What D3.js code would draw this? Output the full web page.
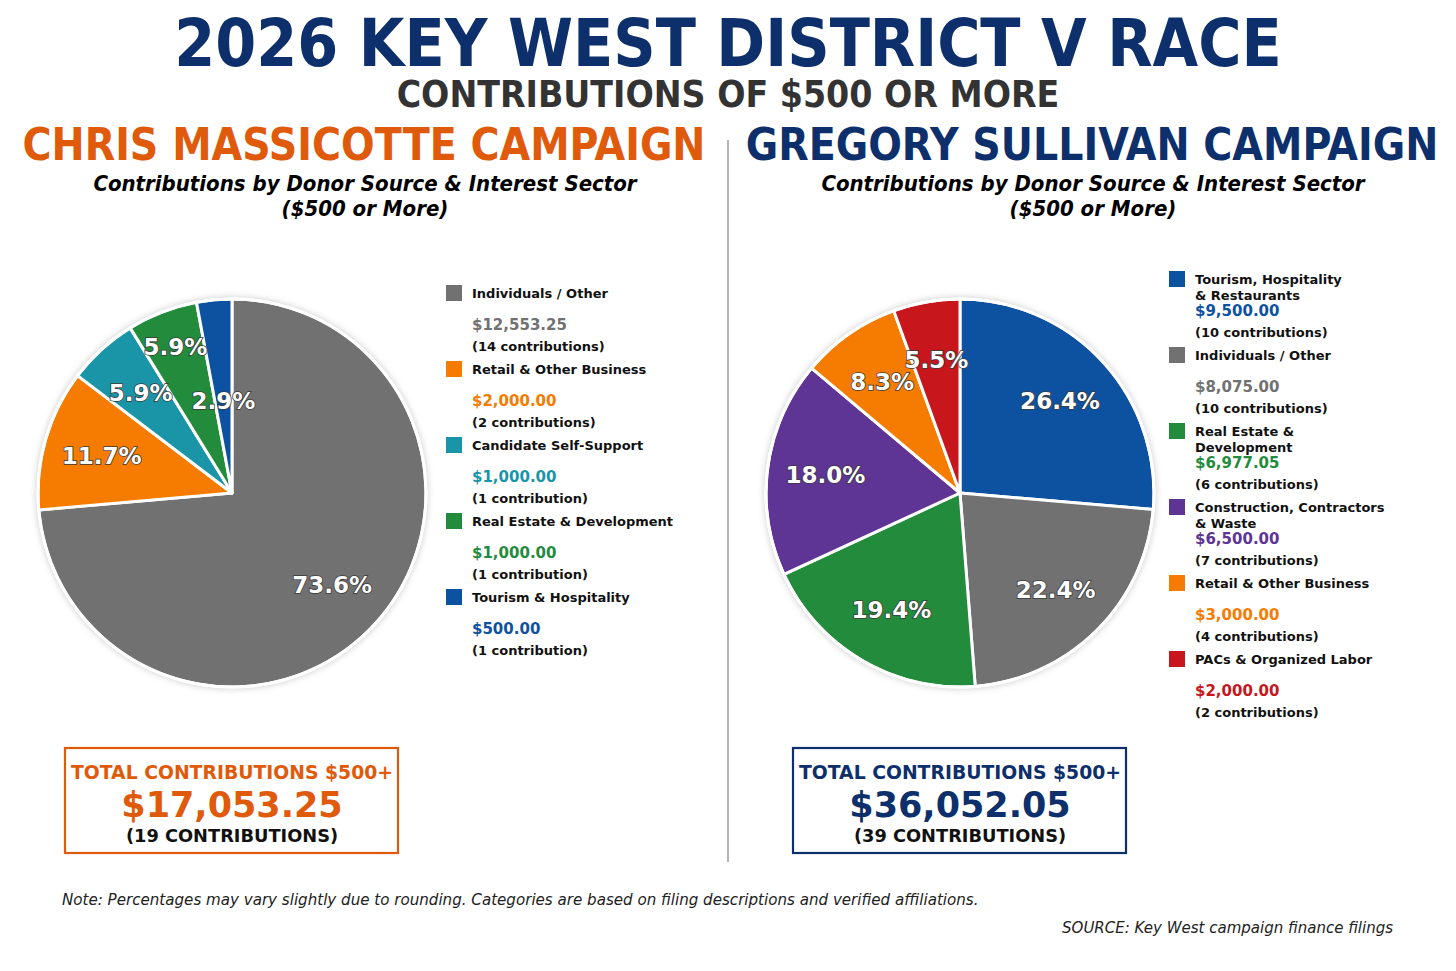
<!DOCTYPE html>
<html><head><meta charset="utf-8">
<script src="https://cdn.jsdelivr.net/npm/d3@7"></script>
<style>
html,body{margin:0;padding:0;background:#fff;}
svg{display:block;}
</style></head>
<body>
<svg id="chart" width="1456" height="971"></svg>
<script>
// ---- DATA ----
const massicotteCategories = ["Individuals / Other","Retail & Other Business","Candidate Self-Support","Real Estate & Development","Tourism & Hospitality"];
const massicotteValues = [12553.25, 2000.00, 1000.00, 1000.00, 500.00];
const massicotteCounts = [14, 2, 1, 1, 1];
const massicotteColors = ["#717171","#F57C00","#1A95A8","#238B3C","#0D52A1"];

const sullivanCategories = ["Tourism, Hospitality\n& Restaurants","Individuals / Other","Real Estate &\nDevelopment","Construction, Contractors\n& Waste","Retail & Other Business","PACs & Organized Labor"];
const sullivanValues = [9500.00, 8075.00, 6977.05, 6500.00, 3000.00, 2000.00];
const sullivanCounts = [10, 10, 6, 7, 4, 2];
const sullivanColors = ["#0D52A1","#717171","#238B3C","#5E3494","#F57C00","#C8161D"];

const titleText = "2026 KEY WEST DISTRICT V RACE";
const subtitleText = "CONTRIBUTIONS OF $500 OR MORE";
const noteText = "Note: Percentages may vary slightly due to rounding. Categories are based on filing descriptions and verified affiliations.";
const sourceText = "SOURCE: Key West campaign finance filings";

// ---- DRAW ----
const svg = d3.select("#chart");
const COND = "'DejaVu Sans Condensed','DejaVu Sans',sans-serif";
const SANS = "'DejaVu Sans',sans-serif";
const NAVY = "#0D2F6B", ORANGE = "#E05A0C";

const defs = svg.append("defs");
const f = defs.append("filter").attr("id","shadow").attr("x","-20%").attr("y","-20%").attr("width","140%").attr("height","140%");
f.append("feGaussianBlur").attr("stdDeviation",3);

svg.append("text").attr("x",728).attr("y",66).attr("text-anchor","middle")
  .style("font-family",COND).style("font-stretch","condensed").style("font-weight","bold").style("font-size","65.5px")
  .attr("fill",NAVY).text(titleText);
svg.append("text").attr("x",728).attr("y",107).attr("text-anchor","middle")
  .style("font-family",COND).style("font-stretch","condensed").style("font-weight","bold").style("font-size","37px")
  .attr("fill","#333333").text(subtitleText);

svg.append("line").attr("x1",728).attr("x2",728).attr("y1",140).attr("y2",862)
  .attr("stroke","#9a9a9a").attr("stroke-width",1.5);

const fmt = d3.format(",.2f");

function panel(opts){
  const {cx, heading, headColor, cats, vals, counts, colors, legX, legY0, boxColor, labelR} = opts;
  svg.append("text").attr("x",cx+132).attr("y",160).attr("text-anchor","middle")
    .style("font-family",COND).style("font-stretch","condensed").style("font-weight","bold").style("font-size","44px")
    .attr("fill",headColor).text(heading);
  const sub = svg.append("text").attr("x",cx+133).attr("text-anchor","middle")
    .style("font-family",COND).style("font-stretch","condensed").style("font-weight","bold").style("font-style","italic").style("font-size","22px")
    .attr("fill","#000");
  sub.append("tspan").attr("x",cx+133).attr("y",191).text("Contributions by Donor Source & Interest Sector");
  sub.append("tspan").attr("x",cx+133).attr("y",216).text("($500 or More)");

  const cy = 493, r = 194;
  const total = d3.sum(vals);
  const pie = d3.pie().sort(null).value(d=>d)(vals);
  const arc = d3.arc().innerRadius(0).outerRadius(r);
  const g = svg.append("g").attr("transform",`translate(${cx},${cy})`);
  g.append("circle").attr("r",r+2).attr("fill","#bdbdbd").attr("filter","url(#shadow)").attr("opacity",0.7);
  g.selectAll("path.slice").data(pie).join("path").attr("class","slice")
    .attr("d",arc).attr("fill",(d,i)=>colors[i]).attr("stroke","#fff").attr("stroke-width",3).attr("stroke-linejoin","round");
  g.append("circle").attr("r",r).attr("fill","none").attr("stroke","#fff").attr("stroke-width",3);
  g.selectAll("text.pct").data(pie).join("text").attr("class","pct")
    .attr("transform",(d,i)=>{
      const lr = r*labelR[i];
      return `translate(${d3.arc().innerRadius(lr).outerRadius(lr).centroid(d)})`;
    })
    .attr("text-anchor","middle").attr("dy","0.36em")
    .style("font-family",SANS).style("font-weight","bold").style("font-size","23px")
    .attr("fill","#fff").attr("stroke","#3a3a3a").attr("stroke-width",1.6).attr("paint-order","stroke")
    .text(d=>(d.value/total*100).toFixed(1)+"%");

  // legend
  const leg = svg.append("g");
  cats.forEach((c,i)=>{
    const y0 = legY0 + i*76;
    leg.append("rect").attr("x",legX).attr("y",y0-8).attr("width",16).attr("height",16).attr("fill",colors[i]);
    const lines = c.split("\n");
    lines.forEach((ln,j)=>{
      leg.append("text").attr("x",legX+26).attr("y",y0+5+j*16)
        .style("font-family",SANS).style("font-weight","bold").style("font-size","13px").attr("fill","#111").text(ln);
    });
    leg.append("text").attr("x",legX+26).attr("y",y0+37)
      .style("font-family",SANS).style("font-weight","bold").style("font-size","15px").attr("fill",colors[i]).text("$"+fmt(vals[i]));
    leg.append("text").attr("x",legX+26).attr("y",y0+58)
      .style("font-family",SANS).style("font-weight","bold").style("font-size","13px").attr("fill","#111")
      .text(`(${counts[i]} contribution${counts[i]===1?"":"s"})`);
  });

  // total box
  const nTot = d3.sum(counts);
  svg.append("rect").attr("x",cx-167).attr("y",748).attr("width",333).attr("height",105)
    .attr("fill","#fff").attr("stroke",boxColor).attr("stroke-width",2.2);
  svg.append("text").attr("x",cx).attr("y",779).attr("text-anchor","middle")
    .style("font-family",SANS).style("font-weight","bold").style("font-size","18.8px").attr("fill",boxColor).text("TOTAL CONTRIBUTIONS $500+");
  svg.append("text").attr("x",cx).attr("y",817).attr("text-anchor","middle")
    .style("font-family",SANS).style("font-weight","bold").style("font-size","35px").attr("fill",boxColor).text("$"+fmt(total));
  svg.append("text").attr("x",cx).attr("y",842).attr("text-anchor","middle")
    .style("font-family",SANS).style("font-weight","bold").style("font-size","17.8px").attr("fill","#111").text(`(${nTot} CONTRIBUTIONS)`);
}

panel({cx:232, heading:"CHRIS MASSICOTTE CAMPAIGN", headColor:ORANGE, cats:massicotteCategories, vals:massicotteValues,
  counts:massicotteCounts, colors:massicotteColors, legX:446, legY0:293, boxColor:"#E05A0C", labelR:[0.7,0.7,0.7,0.81,0.48]});
panel({cx:960, heading:"GREGORY SULLIVAN CAMPAIGN", headColor:NAVY, cats:sullivanCategories, vals:sullivanValues,
  counts:sullivanCounts, colors:sullivanColors, legX:1169, legY0:279, boxColor:NAVY, labelR:[0.7,0.7,0.7,0.7,0.7,0.7]});

svg.append("text").attr("x",62).attr("y",905)
  .style("font-family",SANS).style("font-style","italic").style("font-size","15.1px").attr("fill","#222").text(noteText);
svg.append("text").attr("x",1393).attr("y",933).attr("text-anchor","end")
  .style("font-family",SANS).style("font-style","italic").style("font-size","15px").attr("fill","#222").text(sourceText);
</script>
</body></html>
